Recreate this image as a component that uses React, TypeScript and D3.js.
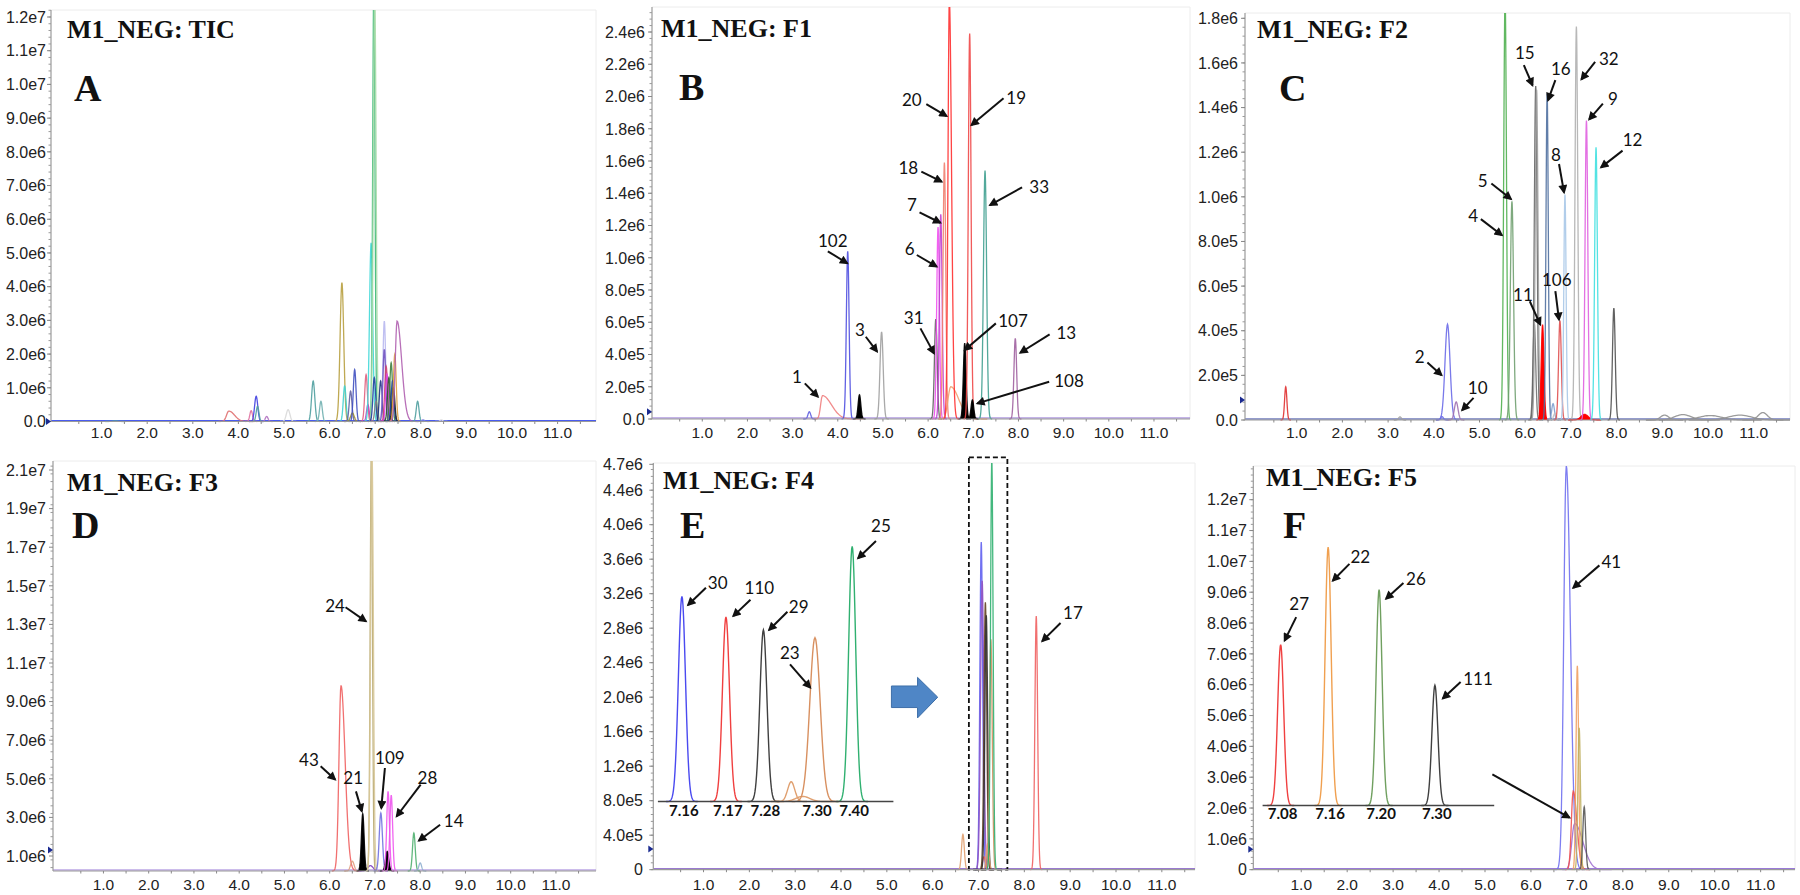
import React from "react";
import * as d3 from "d3";

interface Peak { rt: number; h: number; c: string; s?: number; t?: number; fill?: boolean }
interface Note { label: string; lx: number; ly: number; tx: number; ty: number; hx: number; hy: number }
interface InsetPeak { u: number; h: number; c: string; s?: number; label?: string }

// ---------- DATA ----------
const xTickValues = [1, 2, 3, 4, 5, 6, 7, 8, 9, 10, 11];
const xTickLabels = ["1.0", "2.0", "3.0", "4.0", "5.0", "6.0", "7.0", "8.0", "9.0", "10.0", "11.0"];

const yTicksA = [0, 1e6, 2e6, 3e6, 4e6, 5e6, 6e6, 7e6, 8e6, 9e6, 1e7, 1.1e7, 1.2e7];
const yLabelsA = ["0.0", "1.0e6", "2.0e6", "3.0e6", "4.0e6", "5.0e6", "6.0e6", "7.0e6", "8.0e6", "9.0e6", "1.0e7", "1.1e7", "1.2e7"];
const yTicksB = [0, 2e5, 4e5, 6e5, 8e5, 1e6, 1.2e6, 1.4e6, 1.6e6, 1.8e6, 2e6, 2.2e6, 2.4e6];
const yLabelsB = ["0.0", "2.0e5", "4.0e5", "6.0e5", "8.0e5", "1.0e6", "1.2e6", "1.4e6", "1.6e6", "1.8e6", "2.0e6", "2.2e6", "2.4e6"];
const yTicksC = [0, 2e5, 4e5, 6e5, 8e5, 1e6, 1.2e6, 1.4e6, 1.6e6, 1.8e6];
const yLabelsC = ["0.0", "2.0e5", "4.0e5", "6.0e5", "8.0e5", "1.0e6", "1.2e6", "1.4e6", "1.6e6", "1.8e6"];
const yTicksD = [1e6, 3e6, 5e6, 7e6, 9e6, 1.1e7, 1.3e7, 1.5e7, 1.7e7, 1.9e7, 2.1e7];
const yLabelsD = ["1.0e6", "3.0e6", "5.0e6", "7.0e6", "9.0e6", "1.1e7", "1.3e7", "1.5e7", "1.7e7", "1.9e7", "2.1e7"];
const yTicksE = [0, 4e5, 8e5, 1.2e6, 1.6e6, 2e6, 2.4e6, 2.8e6, 3.2e6, 3.6e6, 4e6, 4.4e6, 4.7e6];
const yLabelsE = ["0", "4.0e5", "8.0e5", "1.2e6", "1.6e6", "2.0e6", "2.4e6", "2.8e6", "3.2e6", "3.6e6", "4.0e6", "4.4e6", "4.7e6"];
const yTicksF = [0, 1e6, 2e6, 3e6, 4e6, 5e6, 6e6, 7e6, 8e6, 9e6, 1e7, 1.1e7, 1.2e7];
const yLabelsF = ["0", "1.0e6", "2.0e6", "3.0e6", "4.0e6", "5.0e6", "6.0e6", "7.0e6", "8.0e6", "9.0e6", "1.0e7", "1.1e7", "1.2e7"];

const peaksA: Peak[] = [
  { rt: 1.3, h: 2e4, c: "#50a0a0", s: 0.05 },
  { rt: 3.79, h: 3.1e5, c: "#e07070", s: 0.05, t: 2.5 },
  { rt: 4.28, h: 3.2e5, c: "#e070a0" },
  { rt: 4.39, h: 7.5e5, c: "#4040e0", s: 0.035 },
  { rt: 4.42, h: 4.5e5, c: "#50a0a0" },
  { rt: 4.62, h: 1.5e5, c: "#b070c0" },
  { rt: 5.09, h: 3.5e5, c: "#d8d8d8", s: 0.04 },
  { rt: 5.64, h: 1.2e6, c: "#50a0a0", s: 0.035 },
  { rt: 5.81, h: 6.0e5, c: "#70b0b0" },
  { rt: 6.27, h: 4.12e6, c: "#b8a040", s: 0.04 },
  { rt: 6.33, h: 1.05e6, c: "#40d0d0" },
  { rt: 6.46, h: 9.0e5, c: "#6060a0" },
  { rt: 6.5, h: 2.5e5, c: "#a09030", s: 0.04 },
  { rt: 6.55, h: 1.54e6, c: "#4050c0" },
  { rt: 6.8, h: 1.39e6, c: "#e06080" },
  { rt: 6.84, h: 5e5, c: "#c040c0" },
  { rt: 6.91, h: 5.3e6, c: "#40d8d8", s: 0.035 },
  { rt: 6.97, h: 1.3e7, c: "#3cb878", s: 0.025 },
  { rt: 6.99, h: 1.28e7, c: "#a8dca8", s: 0.03 },
  { rt: 6.98, h: 1.3e6, c: "#2040a0" },
  { rt: 7.02, h: 6e5, c: "#808080" },
  { rt: 7.12, h: 1.2e6, c: "#203080" },
  { rt: 7.2, h: 2.98e6, c: "#b8b8f0" },
  { rt: 7.2, h: 2.14e6, c: "#7050c0" },
  { rt: 7.24, h: 1.64e6, c: "#d04070" },
  { rt: 7.26, h: 1.4e6, c: "#e040e0" },
  { rt: 7.3, h: 1.3e6, c: "#305030" },
  { rt: 7.35, h: 1.74e6, c: "#408040" },
  { rt: 7.38, h: 1.2e6, c: "#1040a0" },
  { rt: 7.4, h: 1.0e6, c: "#202020" },
  { rt: 7.43, h: 1.99e6, c: "#e0a040" },
  { rt: 7.48, h: 2.98e6, c: "#b060b0", s: 0.04, t: 2.5 },
  { rt: 7.93, h: 6.0e5, c: "#50a0a0" },
  { rt: 8.05, h: 5e4, c: "#8080e0" },
  { rt: 8.45, h: 5e4, c: "#dddddd" },
];

const peaksB: Peak[] = [
  { rt: 3.37, h: 4.5e4, c: "#6060e0" },
  { rt: 3.66, h: 1.45e5, c: "#f08080", s: 0.04, t: 5 },
  { rt: 4.22, h: 1.04e6, c: "#5050e0" },
  { rt: 4.48, h: 1.5e5, c: "#000000", fill: true },
  { rt: 4.97, h: 5.4e5, c: "#a0a0a0", s: 0.035 },
  { rt: 6.17, h: 6.2e5, c: "#606060" },
  { rt: 6.22, h: 1.19e6, c: "#f050f0" },
  { rt: 6.28, h: 1.27e6, c: "#c040d0" },
  { rt: 6.36, h: 1.59e6, c: "#f08070" },
  { rt: 6.5, h: 2.0e5, c: "#f0a070", s: 0.06, t: 3 },
  { rt: 6.47, h: 2.6e6, c: "#ff3030", s: 0.03, t: 1.6 },
  { rt: 6.81, h: 4.7e5, c: "#000000", fill: true },
  { rt: 6.92, h: 2.39e6, c: "#f04848" },
  { rt: 6.98, h: 1.18e5, c: "#000000", fill: true },
  { rt: 7.26, h: 1.54e6, c: "#40a090", s: 0.035 },
  { rt: 7.93, h: 5.0e5, c: "#a060a0" },
];

const notesB: Note[] = [
  { label: "1", lx: 3.095, ly: 2.62e5, tx: 3.27, ty: 2.21e5, hx: 3.56, hy: 1.38e5 },
  { label: "102", lx: 3.89, ly: 1.106e6, tx: 3.78, ty: 1.04e6, hx: 4.21, hy: 9.66e5 },
  { label: "3", lx: 4.49, ly: 5.52e5, tx: 4.62, ty: 5.1e5, hx: 4.87, hy: 4.18e5 },
  { label: "31", lx: 5.68, ly: 6.24e5, tx: 5.83, ty: 5.62e5, hx: 6.13, hy: 4.07e5 },
  { label: "6", lx: 5.59, ly: 1.052e6, tx: 5.75, ty: 1.017e6, hx: 6.19, hy: 9.45e5 },
  { label: "7", lx: 5.64, ly: 1.327e6, tx: 5.81, ty: 1.282e6, hx: 6.27, hy: 1.217e6 },
  { label: "18", lx: 5.56, ly: 1.555e6, tx: 5.85, ty: 1.534e6, hx: 6.3, hy: 1.472e6 },
  { label: "20", lx: 5.64, ly: 1.978e6, tx: 5.96, ty: 1.952e6, hx: 6.41, hy: 1.879e6 },
  { label: "19", lx: 7.95, ly: 1.989e6, tx: 7.67, ty: 1.989e6, hx: 6.96, hy: 1.823e6 },
  { label: "33", lx: 8.46, ly: 1.437e6, tx: 8.08, ty: 1.437e6, hx: 7.37, hy: 1.327e6 },
  { label: "107", lx: 7.88, ly: 6.1e5, tx: 7.5, ty: 5.93e5, hx: 6.81, hy: 4.28e5 },
  { label: "13", lx: 9.06, ly: 5.35e5, tx: 8.69, ty: 5.25e5, hx: 8.04, hy: 4.11e5 },
  { label: "108", lx: 9.12, ly: 2.36e5, tx: 8.68, ty: 2.31e5, hx: 7.09, hy: 9.7e4 },
];

const peaksC: Peak[] = [
  { rt: 0.76, h: 1.49e5, c: "#e03030", s: 0.025 },
  { rt: 3.26, h: 1.4e4, c: "#a0a0a0" },
  { rt: 4.18, h: 1.5e4, c: "#6a6ae8" },
  { rt: 4.3, h: 4.29e5, c: "#6a6ae8", s: 0.055 },
  { rt: 4.49, h: 8.1e4, c: "#a070b0", s: 0.04 },
  { rt: 5.56, h: 1.9e6, c: "#50b050", s: 0.03 },
  { rt: 5.71, h: 9.8e5, c: "#70a070", s: 0.035 },
  { rt: 6.2, h: 4.3e5, c: "#707070" },
  { rt: 6.23, h: 1.496e6, c: "#606060" },
  { rt: 6.25, h: 1.48e6, c: "#a0a0a0" },
  { rt: 6.38, h: 4.27e5, c: "#ff0000", fill: true },
  { rt: 6.48, h: 1.463e6, c: "#5070a0", s: 0.025 },
  { rt: 6.61, h: 7.3e4, c: "#80a0d0" },
  { rt: 6.65, h: 3e4, c: "#c0c0c0" },
  { rt: 6.76, h: 4.45e5, c: "#e05050" },
  { rt: 6.87, h: 1.01e6, c: "#a8c8e8", s: 0.025 },
  { rt: 7.12, h: 1.763e6, c: "#b0b0b0" },
  { rt: 7.3, h: 2.5e4, c: "#ff0000", s: 0.08, fill: true },
  { rt: 7.34, h: 1.342e6, c: "#e060e0" },
  { rt: 7.55, h: 1.222e6, c: "#40e0e0" },
  { rt: 7.94, h: 5.01e5, c: "#505050" },
  { rt: 9.05, h: 2.2e4, c: "#909090", s: 0.09 },
  { rt: 9.45, h: 2.4e4, c: "#909090", s: 0.18 },
  { rt: 10.05, h: 2.0e4, c: "#909090", s: 0.25 },
  { rt: 10.7, h: 2.2e4, c: "#909090", s: 0.25 },
  { rt: 11.2, h: 3.3e4, c: "#909090", s: 0.1 },
];

const notesC: Note[] = [
  { label: "15", lx: 5.99, ly: 1.646e6, tx: 5.97, ty: 1.59e6, hx: 6.16, hy: 1.5e6 },
  { label: "16", lx: 6.78, ly: 1.572e6, tx: 6.66, ty: 1.523e6, hx: 6.5, hy: 1.433e6 },
  { label: "32", lx: 7.83, ly: 1.616e6, tx: 7.53, ty: 1.605e6, hx: 7.23, hy: 1.526e6 },
  { label: "9", lx: 7.92, ly: 1.436e6, tx: 7.7, ty: 1.418e6, hx: 7.4, hy: 1.347e6 },
  { label: "12", lx: 8.35, ly: 1.255e6, tx: 8.13, ty: 1.207e6, hx: 7.66, hy: 1.132e6 },
  { label: "8", lx: 6.67, ly: 1.189e6, tx: 6.74, ty: 1.147e6, hx: 6.85, hy: 1.02e6 },
  { label: "5", lx: 5.07, ly: 1.072e6, tx: 5.26, ty: 1.06e6, hx: 5.69, hy: 9.9e5 },
  { label: "4", lx: 4.86, ly: 9.15e5, tx: 5.03, ty: 9.0e5, hx: 5.49, hy: 8.28e5 },
  { label: "11", lx: 5.95, ly: 5.59e5, tx: 6.1, ty: 5.32e5, hx: 6.33, hy: 4.27e5 },
  { label: "106", lx: 6.69, ly: 6.25e5, tx: 6.66, ty: 5.77e5, hx: 6.74, hy: 4.49e5 },
  { label: "2", lx: 3.69, ly: 2.84e5, tx: 3.86, ty: 2.58e5, hx: 4.17, hy: 2.01e5 },
  { label: "10", lx: 4.96, ly: 1.41e5, tx: 4.87, ty: 9.9e4, hx: 4.62, hy: 4.4e4 },
];

const peaksD: Peak[] = [
  { rt: 6.25, h: 9.84e6, c: "#f06060", s: 0.045, t: 2 },
  { rt: 6.5, h: 7.3e5, c: "#e0a080", s: 0.04 },
  { rt: 6.9, h: 5e5, c: "#8040c0", s: 0.06 },
  { rt: 6.73, h: 3.19e6, c: "#000000", fill: true },
  { rt: 6.92, h: 2.2e7, c: "#b8a870", s: 0.025 },
  { rt: 6.935, h: 2.2e7, c: "#d8c898", s: 0.03 },
  { rt: 7.13, h: 3.23e6, c: "#7070e0", s: 0.035 },
  { rt: 7.27, h: 1.24e6, c: "#000000", s: 0.035, fill: true },
  { rt: 7.29, h: 4.35e6, c: "#ee55ee" },
  { rt: 7.36, h: 4.15e6, c: "#ee55ee" },
  { rt: 7.86, h: 2.19e6, c: "#50b070" },
  { rt: 8.0, h: 6.4e5, c: "#90b0d0" },
];

const notesD: Note[] = [
  { label: "24", lx: 6.12, ly: 1.394e7, tx: 6.35, ty: 1.389e7, hx: 6.8, hy: 1.316e7 },
  { label: "43", lx: 5.54, ly: 5.99e6, tx: 5.8, ty: 5.65e6, hx: 6.12, hy: 4.96e6 },
  { label: "21", lx: 6.52, ly: 5.03e6, tx: 6.58, ty: 4.35e6, hx: 6.71, hy: 3.32e6 },
  { label: "109", lx: 7.33, ly: 6.08e6, tx: 7.22, ty: 5.56e6, hx: 7.14, hy: 3.48e6 },
  { label: "28", lx: 8.16, ly: 5.04e6, tx: 8.01, ty: 4.7e6, hx: 7.48, hy: 3.06e6 },
  { label: "14", lx: 8.74, ly: 2.83e6, tx: 8.44, ty: 2.62e6, hx: 7.97, hy: 1.79e6 },
];

const peaksE: Peak[] = [
  { rt: 6.66, h: 4.1e5, c: "#e0a070" },
  { rt: 7.06, h: 3.8e6, c: "#6060f0" },
  { rt: 7.08, h: 3.35e6, c: "#9050c0", s: 0.035 },
  { rt: 7.12, h: 1.5e5, c: "#f06060" },
  { rt: 7.15, h: 3.1e6, c: "#604020" },
  { rt: 7.17, h: 2.95e6, c: "#303030" },
  { rt: 7.2, h: 3e5, c: "#e0a070" },
  { rt: 7.27, h: 2.67e6, c: "#d09060" },
  { rt: 7.29, h: 4.75e6, c: "#30b070", s: 0.028 },
  { rt: 8.26, h: 2.94e6, c: "#f06060" },
];

const notesE: Note[] = [
  { label: "17", lx: 9.06, ly: 2.97e6, tx: 8.79, ty: 2.86e6, hx: 8.39, hy: 2.65e6 },
];

const insetPeaksE: InsetPeak[] = [
  { u: 1.02, h: 3.17e6, c: "#4a4af0", label: "7.16" },
  { u: 2.89, h: 2.93e6, c: "#f04040", label: "7.17" },
  { u: 4.48, h: 2.78e6, c: "#404040", label: "7.28" },
  { u: 5.66, h: 1.02e6, c: "#e0a070" },
  { u: 6.15, h: 8.5e5, c: "#e0a070", s: 0.3 },
  { u: 6.67, h: 2.69e6, c: "#d89060", s: 0.22, label: "7.30" },
  { u: 8.25, h: 3.75e6, c: "#30b070", label: "7.40" },
];

const insetNotesE: Note[] = [
  { label: "30", lx: 2.54, ly: 3.32e6, tx: 2.04, ty: 3.27e6, hx: 1.28, hy: 3.07e6 },
  { label: "110", lx: 4.31, ly: 3.26e6, tx: 3.93, ty: 3.13e6, hx: 3.2, hy: 2.94e6 },
  { label: "29", lx: 5.98, ly: 3.04e6, tx: 5.5, ty: 2.99e6, hx: 4.72, hy: 2.78e6 },
  { label: "23", lx: 5.6, ly: 2.51e6, tx: 5.61, ty: 2.38e6, hx: 6.47, hy: 2.11e6 },
  { label: "25", lx: 9.47, ly: 3.98e6, tx: 9.26, ty: 3.81e6, hx: 8.5, hy: 3.61e6 },
];

const peaksF: Peak[] = [
  { rt: 6.77, h: 1.31e7, c: "#7070f0", s: 0.055, t: 1.6 },
  { rt: 6.95, h: 1.5e6, c: "#a070d0", s: 0.06, t: 3 },
  { rt: 6.92, h: 2.55e6, c: "#f05050", s: 0.04, t: 2 },
  { rt: 7.01, h: 6.61e6, c: "#f0a060", s: 0.028 },
  { rt: 7.05, h: 4.6e6, c: "#c0b060", s: 0.028 },
  { rt: 7.16, h: 2.04e6, c: "#555555" },
];

const notesF: Note[] = [
  { label: "41", lx: 7.75, ly: 9.98e6, tx: 7.49, ty: 9.87e6, hx: 6.92, hy: 9.14e6 },
];

const insetPeaksF: InsetPeak[] = [
  { u: 0.78, h: 7.3e6, c: "#f04040", label: "7.08" },
  { u: 2.83, h: 1.046e7, c: "#f0a050", label: "7.16" },
  { u: 5.03, h: 9.08e6, c: "#70a060", label: "7.20" },
  { u: 7.44, h: 5.98e6, c: "#404040", label: "7.30" },
];

const insetNotesF: Note[] = [
  { label: "27", lx: 1.58, ly: 8.6e6, tx: 1.45, ty: 8.19e6, hx: 0.95, hy: 7.43e6 },
  { label: "22", lx: 4.22, ly: 1.013e7, tx: 3.75, ty: 9.92e6, hx: 3.03, hy: 9.37e6 },
  { label: "26", lx: 6.62, ly: 9.44e6, tx: 6.08, ty: 9.3e6, hx: 5.33, hy: 8.79e6 },
  { label: "111", lx: 9.3, ly: 6.19e6, tx: 8.55, ty: 6.09e6, hx: 7.78, hy: 5.55e6 },
];

// ---------- LAYOUT ----------
interface Layout {
  x0: number; x10: number; axisX: number; right: number;
  yv: [number, number]; yp: [number, number]; top: number; bottom: number;
  labelRight: number; xLabelY: number; titleX: number; titleY: number; letterX: number; letterY: number;
}
interface InsetDef { peaks: InsetPeak[]; notes: Note[]; left: number; right: number; baseV: number; labelY: number; s: number }
interface PanelDef {
  id: string; title: string; letter: string; peaks: Peak[]; notes: Note[];
  yTicks: number[]; yLabels: string[]; minorStep: number; sDefault: number;
  baseColor: string; markerV: number; L: Layout; inset?: InsetDef; extra?: string;
}

const PANELS: PanelDef[] = [
  {
    id: "A", title: "M1_NEG: TIC", letter: "A", peaks: peaksA, notes: [], yTicks: yTicksA, yLabels: yLabelsA,
    minorStep: 2e5, sDefault: 0.03, baseColor: "#4a5cf0", markerV: 0,
    L: { x0: 56, x10: 512, axisX: 51, right: 596, yv: [0, 1.2e7], yp: [421.5, 17], top: 10, bottom: 421.5, labelRight: 46, xLabelY: 438, titleX: 67, titleY: 38, letterX: 74, letterY: 101 },
  },
  {
    id: "B", title: "M1_NEG: F1", letter: "B", peaks: peaksB, notes: notesB, yTicks: yTicksB, yLabels: yLabelsB,
    minorStep: 4e4, sDefault: 0.03, baseColor: "#8a6ad0", markerV: 4.5e4,
    L: { x0: 657.1, x10: 1108.8, axisX: 652, right: 1190, yv: [0, 2.4e6], yp: [419, 32], top: 7, bottom: 419, labelRight: 645, xLabelY: 438, titleX: 661, titleY: 37, letterX: 679, letterY: 100 },
  },
  {
    id: "C", title: "M1_NEG: F2", letter: "C", peaks: peaksC, notes: notesC, yTicks: yTicksC, yLabels: yLabelsC,
    minorStep: 4e4, sDefault: 0.03, baseColor: "#2a3a9a", markerV: 9e4,
    L: { x0: 1251, x10: 1708, axisX: 1245, right: 1790, yv: [0, 1.8e6], yp: [420, 18.3], top: 13, bottom: 420, labelRight: 1238, xLabelY: 438, titleX: 1257, titleY: 38, letterX: 1279, letterY: 101 },
  },
  {
    id: "D", title: "M1_NEG: F3", letter: "D", peaks: peaksD, notes: notesD, yTicks: yTicksD, yLabels: yLabelsD,
    minorStep: 4e5, sDefault: 0.03, baseColor: "#9a7ad8", markerV: 1.31e6,
    L: { x0: 58.2, x10: 510.7, axisX: 53, right: 596, yv: [1e6, 2.1e7], yp: [856, 470], top: 461, bottom: 871, labelRight: 46, xLabelY: 890, titleX: 67, titleY: 491, letterX: 72, letterY: 538 },
  },
  {
    id: "E", title: "M1_NEG: F4", letter: "E", peaks: peaksE, notes: notesE, yTicks: yTicksE, yLabels: yLabelsE,
    minorStep: 8e4, sDefault: 0.03, baseColor: "#9a7ad0", markerV: 2.4e5, extra: "E",
    L: { x0: 657.7, x10: 1116, axisX: 653.3, right: 1195, yv: [0, 4e6], yp: [869.7, 524.7], top: 463, bottom: 869.7, labelRight: 643, xLabelY: 890, titleX: 663, titleY: 489, letterX: 680, letterY: 538 },
    inset: { peaks: insetPeaksE, notes: insetNotesE, left: 657.9, right: 893.4, baseV: 7.9e5, labelY: 816, s: 0.15 },
  },
  {
    id: "F", title: "M1_NEG: F5", letter: "F", peaks: peaksF, notes: notesF, yTicks: yTicksF, yLabels: yLabelsF,
    minorStep: 2e5, sDefault: 0.03, baseColor: "#9a7ad8", markerV: 6.6e5, extra: "F",
    L: { x0: 1255.3, x10: 1714.7, axisX: 1253.3, right: 1795, yv: [0, 1.2e7], yp: [869.7, 499.7], top: 466, bottom: 869.7, labelRight: 1247, xLabelY: 890, titleX: 1266, titleY: 486, letterX: 1283, letterY: 538 },
    inset: { peaks: insetPeaksF, notes: insetNotesF, left: 1262.6, right: 1494.2, baseV: 2.08e6, labelY: 819, s: 0.13 },
  },
];

const AXIS_FONT = "'Liberation Sans', Arial, Helvetica, sans-serif";
const TITLE_FONT = "'Liberation Serif', 'Times New Roman', serif";
const NOTE_FONT = "Lato, Calibri, 'Open Sans', sans-serif";

function peakPoints(rt: number, h: number, sl: number, sr: number, base: number): [number, number][] {
  const pts: [number, number][] = [];
  const n = 60;
  const a = rt - 4.5 * sl;
  const b = rt + 4.5 * sr;
  for (let i = 0; i <= n; i++) {
    const r = a + ((b - a) * i) / n;
    const d = r - rt;
    const sg = d < 0 ? sl : sr;
    pts.push([r, base + (h - base) * Math.exp(-0.5 * (d / sg) * (d / sg))]);
  }
  return pts;
}

function Annot({ n, x, y }: { n: Note; x: (v: number) => number; y: (v: number) => number }) {
  return (
    <g>
      <line x1={x(n.tx)} y1={y(n.ty)} x2={x(n.hx)} y2={y(n.hy)} stroke="#111" strokeWidth={2} markerEnd="url(#ah)" />
      <text x={x(n.lx)} y={y(n.ly)} dy="0.35em" textAnchor="middle" fontFamily={NOTE_FONT} fontSize={17} fill="#111">
        {n.label}
      </text>
    </g>
  );
}

function Panel({ p }: { p: PanelDef }) {
  const L = p.L;
  const x = d3.scaleLinear().domain([0, 10]).range([L.x0, L.x10]);
  const y = d3.scaleLinear().domain(L.yv).range(L.yp);
  const line = d3.line<[number, number]>().x((d) => x(d[0])).y((d) => y(d[1]));
  const yMaxV = y.invert(L.top);
  const yBaseV = Math.max(0, y.invert(L.bottom));
  const xMaxV = x.invert(L.right);
  const minor = d3.range(0, yMaxV, p.minorStep).filter((v) => y(v) <= L.bottom + 0.5);
  const xMinor = d3.range(0.5, xMaxV, 0.5);
  const clipId = "clip" + p.id;

  let insetEls: React.ReactNode = null;
  if (p.inset) {
    const I = p.inset;
    const u = d3.scaleLinear().domain([0, 10]).range([I.left, I.right]);
    const uline = d3.line<[number, number]>().x((d) => u(d[0])).y((d) => y(d[1]));
    insetEls = (
      <g>
        {I.peaks.map((pk, i) => (
          <path key={i} d={uline(peakPoints(pk.u, pk.h, pk.s ?? I.s, pk.s ?? I.s, I.baseV)) || ""} fill="none" stroke={pk.c} strokeWidth={1.4} />
        ))}
        <line x1={u(0)} x2={u(10)} y1={y(I.baseV)} y2={y(I.baseV)} stroke="#444" strokeWidth={1.6} />
        {I.peaks.filter((pk) => pk.label).map((pk, i) => (
          <text key={i} x={u(pk.u) + 2} y={I.labelY} textAnchor="middle" fontFamily={NOTE_FONT} fontWeight="bold" fontSize={15} fill="#111">
            {pk.label}
          </text>
        ))}
        {I.notes.map((n, i) => (
          <Annot key={i} n={n} x={u} y={y} />
        ))}
      </g>
    );
  }

  return (
    <g>
      <defs>
        <clipPath id={clipId}>
          <rect x={L.axisX} y={L.top} width={L.right - L.axisX} height={L.bottom - L.top + 1} />
        </clipPath>
      </defs>
      <path d={`M${L.axisX},${L.top}H${L.right}V${L.bottom}`} fill="none" stroke="#ececec" strokeWidth={1} />
      {p.extra === "E" && (
        <polygon
          points={[
            [5.1, 2.13e6], [5.67, 2.13e6], [5.67, 2.23e6], [6.11, 2.0e6], [5.67, 1.76e6], [5.67, 1.88e6], [5.1, 1.88e6],
          ].map((d) => `${x(d[0])},${y(d[1])}`).join(" ")}
          fill="#4f86c6"
          stroke="#3e6fa8"
          strokeWidth={1}
        />
      )}
      <g clipPath={`url(#${clipId})`}>
        <line x1={L.axisX} x2={L.right} y1={L.bottom - 1} y2={L.bottom - 1} stroke={p.baseColor} strokeWidth={1.2} />
        {p.peaks.map((pk, i) => {
          const s = pk.s ?? p.sDefault;
          const pts = peakPoints(pk.rt, pk.h, s, s * (pk.t ?? 1), yBaseV);
          return (
            <path
              key={i}
              d={line(pts) || ""}
              fill={pk.fill ? pk.c : "none"}
              stroke={pk.c}
              strokeWidth={1.3}
              strokeOpacity={0.9}
            />
          );
        })}
      </g>
      {p.extra === "E" && (
        <rect x={x(6.79)} y={y(4.78e6)} width={x(7.63) - x(6.79)} height={y(0) - y(4.78e6)} fill="none" stroke="#111" strokeWidth={1.8} strokeDasharray="5,3" />
      )}
      <line x1={L.axisX} x2={L.axisX} y1={L.top} y2={L.bottom} stroke="#9a9a9a" strokeWidth={1.2} />
      {minor.map((v, i) => (
        <line key={"m" + i} x1={L.axisX - 2.5} x2={L.axisX} y1={y(v)} y2={y(v)} stroke="#9a9a9a" strokeWidth={1} />
      ))}
      {p.yTicks.map((v, i) => (
        <g key={"t" + i}>
          <line x1={L.axisX - 4} x2={L.axisX} y1={y(v)} y2={y(v)} stroke="#888" strokeWidth={1} />
          <text x={L.labelRight} y={y(v)} dy="0.36em" textAnchor="end" fontFamily={AXIS_FONT} fontSize={16} fill="#222">
            {p.yLabels[i]}
          </text>
        </g>
      ))}
      <path
        d={`M${L.axisX - 5},${y(p.markerV) - 3.5}L${L.axisX},${y(p.markerV)}L${L.axisX - 5},${y(p.markerV) + 3.5}Z`}
        fill="#1a2a90"
      />
      <line x1={L.axisX} x2={L.right} y1={L.bottom} y2={L.bottom} stroke="#9a9a9a" strokeWidth={1.2} />
      {xMinor.map((v, i) => (
        <line key={"xm" + i} x1={x(v)} x2={x(v)} y1={L.bottom} y2={L.bottom + 2.5} stroke="#888" strokeWidth={1} />
      ))}
      {xTickValues.map((v, i) => (
        <text key={"xl" + i} x={x(v)} y={L.xLabelY} textAnchor="middle" fontFamily={AXIS_FONT} fontSize={15.5} fill="#222">
          {xTickLabels[i]}
        </text>
      ))}
      {insetEls}
      {p.notes.map((n, i) => (
        <Annot key={i} n={n} x={x} y={y} />
      ))}
      {p.extra === "F" && (
        <line x1={x(5.16)} y1={y(3.09e6)} x2={x(6.84)} y2={y(1.69e6)} stroke="#111" strokeWidth={2} markerEnd="url(#ah)" />
      )}
      <text x={L.titleX} y={L.titleY} fontFamily={TITLE_FONT} fontWeight="bold" fontSize={26} fill="#111">
        {p.title}
      </text>
      <text x={L.letterX} y={L.letterY} fontFamily={TITLE_FONT} fontWeight="bold" fontSize={38} fill="#111">
        {p.letter}
      </text>
    </g>
  );
}

export default function App() {
  return (
    <div style={{ position: "absolute", left: 0, top: 0, width: 1800, height: 895, background: "#fff" }}>
      <svg width={1800} height={895} viewBox="0 0 1800 895" xmlns="http://www.w3.org/2000/svg">
        <defs>
          <marker id="ah" viewBox="0 0 10 10" refX="8" refY="5" markerWidth="11" markerHeight="9" markerUnits="userSpaceOnUse" orient="auto">
            <path d="M0,0 L10,5 L0,10 z" fill="#111" />
          </marker>
        </defs>
        <rect x={0} y={0} width={1800} height={895} fill="#fff" />
        {PANELS.map((p) => (
          <Panel key={p.id} p={p} />
        ))}
      </svg>
    </div>
  );
}
